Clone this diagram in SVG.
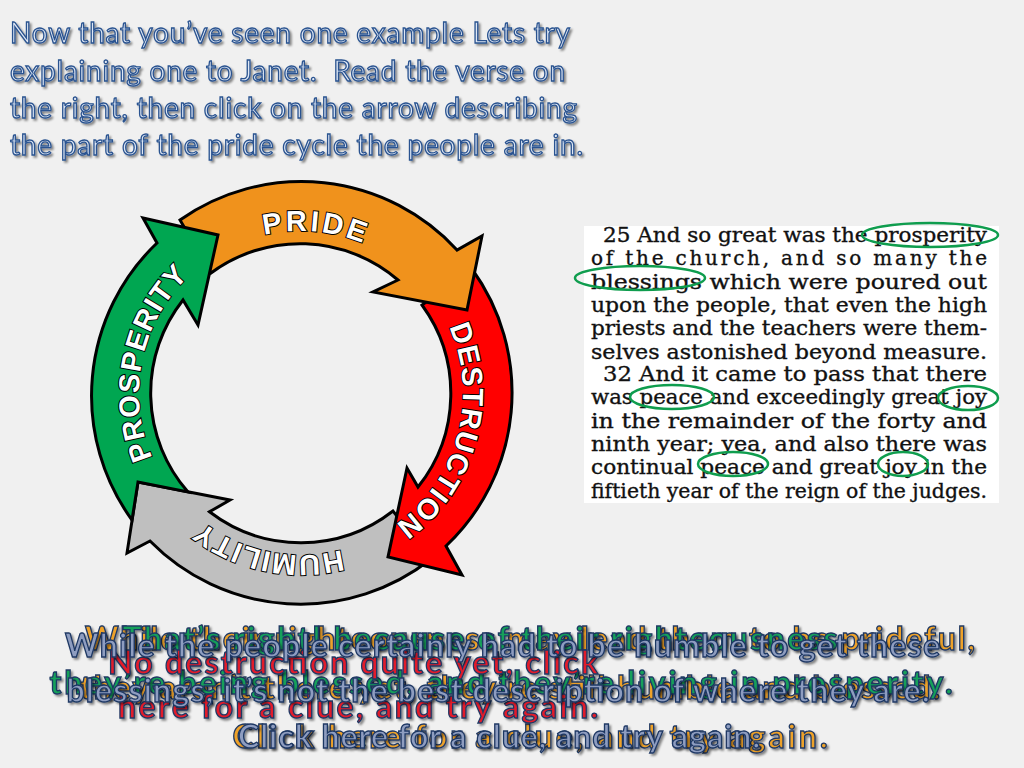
<svg xmlns="http://www.w3.org/2000/svg" width="1024" height="768" viewBox="0 0 1024 768">
<defs>
<style>
.title{font-family:Lato,"Open Sans","Liberation Sans",sans-serif;font-size:28px;fill:#dfe8f5;stroke:#2a5390;stroke-width:1.3px;white-space:pre}
.v{font-family:"DejaVu Serif","Liberation Serif",serif;font-size:20px;fill:#111;stroke:#111;stroke-width:0.35px}
.arr{stroke:#000;stroke-width:3;stroke-linejoin:miter}
.lab{font-family:"Liberation Sans",Arial,sans-serif;font-weight:700;font-size:29px;fill:#fff;stroke:#000;stroke-width:2px;paint-order:stroke}
.ring{fill:none;stroke:#0f9d4e;stroke-width:2.5}
.fb{font-family:Lato,"Open Sans","Liberation Sans",sans-serif;font-weight:700;font-size:32px;stroke:#1f3864;stroke-width:1.3px;text-anchor:middle}
</style>
<filter id="sh" x="-5%" y="-30%" width="110%" height="160%">
<feDropShadow dx="2" dy="2" stdDeviation="1" flood-color="#000" flood-opacity="0.45"/>
</filter>
<path id="lp" d="M 463,393 A 162 162 0 1 1 139,393 A 162 162 0 1 1 463,393 A 162 162 0 1 1 139,393 A 162 162 0 1 1 463,393"/>
</defs>
<rect width="1024" height="768" fill="#f0f0f0"/>

<g id="instructions" filter="url(#sh)">
<text class="title" x="10" y="43" textLength="560">Now that you’ve seen one example Lets try</text>
<text class="title" x="10" y="81" textLength="555">explaining one to Janet.  Read the verse on</text>
<text class="title" x="10" y="118" textLength="567">the right, then click on the arrow describing</text>
<text class="title" x="10" y="155" textLength="573">the part of the pride cycle the people are in.</text>
</g>

<g id="cycle">
<g id="humility-arrow">
<path class="arr" fill="#bfbfbf" d="M 431,559 A 211 211 0 0 1 150,541 L 127,553 L 138,482 L 230,500 L 209.5,511.8 A 150 150 0 0 0 393,511 Z"/>
</g>
<g id="destruction-arrow">
<path class="arr" fill="#ff0000" d="M 472,269 A 211 211 0 0 1 446,546 L 462,575 L 388,557 L 407,468 L 418,487 A 150 150 0 0 0 422,305 Z"/>
</g>
<g id="pride-arrow">
<path class="arr" fill="#f0921c" d="M 180,220 A 211 211 0 0 1 457,250 L 482,236 L 467,310 L 373,292 L 398,280 A 150 150 0 0 0 211,273 Z"/>
</g>
<g id="prosperity-arrow">
<path class="arr" fill="#00a651" d="M 132,520 L 138,482 L 188,492 A 150 150 0 0 1 183,300 L 198,325 L 218,235 L 143,218 L 157,243 A 211 211 0 0 0 132,520 Z"/>
</g>
<text class="lab" letter-spacing="3"><textPath href="#lp" startOffset="1795.5" text-anchor="middle">PRIDE</textPath></text>
<text class="lab" letter-spacing="1.2"><textPath href="#lp" startOffset="1061" text-anchor="middle">DESTRUCTION</textPath></text>
<text class="lab" letter-spacing="1.4"><textPath href="#lp" startOffset="1305.2" text-anchor="middle">HUMILITY</textPath></text>
<text class="lab" letter-spacing="1.1"><textPath href="#lp" startOffset="1559" text-anchor="middle">PROSPERITY</textPath></text>
</g>

<g id="verse">
<rect x="584" y="226" width="415" height="277" fill="#ffffff"/>
<text class="v" x="603" y="242" textLength="384" lengthAdjust="spacingAndGlyphs">25 And so great was the prosperity</text>
<text class="v" x="591" y="265.3" textLength="396">of the church, and so many the</text>
<text class="v" x="591" y="288.6" textLength="396" lengthAdjust="spacingAndGlyphs">blessings which were poured out</text>
<text class="v" x="591" y="311.9" textLength="396" lengthAdjust="spacingAndGlyphs">upon the people, that even the high</text>
<text class="v" x="591" y="335.2" textLength="396" lengthAdjust="spacingAndGlyphs">priests and the teachers were them-</text>
<text class="v" x="591" y="358.5" textLength="396" lengthAdjust="spacingAndGlyphs">selves astonished beyond measure.</text>
<text class="v" x="603" y="381" textLength="384" lengthAdjust="spacingAndGlyphs">32 And it came to pass that there</text>
<text class="v" x="591" y="404.3" textLength="396" lengthAdjust="spacingAndGlyphs">was peace and exceedingly great joy</text>
<text class="v" x="591" y="427.6" textLength="396" lengthAdjust="spacingAndGlyphs">in the remainder of the forty and</text>
<text class="v" x="591" y="450.9" textLength="396" lengthAdjust="spacingAndGlyphs">ninth year; yea, and also there was</text>
<text class="v" x="591" y="474.2" textLength="396" lengthAdjust="spacingAndGlyphs">continual peace and great joy in the</text>
<text class="v" x="591" y="497.5" textLength="396" lengthAdjust="spacingAndGlyphs">fiftieth year of the reign of the judges.</text>
<ellipse class="ring" cx="930" cy="235" rx="68" ry="12"/>
<ellipse class="ring" cx="640" cy="278" rx="65" ry="12"/>
<ellipse class="ring" cx="672" cy="397" rx="42" ry="12"/>
<ellipse class="ring" cx="968" cy="398" rx="30" ry="12"/>
<ellipse class="ring" cx="733" cy="464" rx="35" ry="12"/>
<ellipse class="ring" cx="903" cy="464" rx="25" ry="12"/>
</g>

<g id="feedback-pride" filter="url(#sh)">
<text class="fb" fill="#eea229" font-size="33" x="530" y="650" textLength="890">While their righteousness may lead them to be prideful,</text>
<text class="fb" fill="#eea229" font-size="33" x="510" y="699" textLength="860">they aren’t there yet, they’re still humble and blessed.</text>
<text class="fb" fill="#eea229" font-size="33" x="530" y="748" textLength="595">Click here for a clue, and try again.</text>
</g>
<g id="feedback-prosperity" filter="url(#sh)">
<text class="fb" fill="#12a05a" x="480" y="650" textLength="715">That’s right! because of their righteousness</text>
<text class="fb" fill="#12a05a" x="501" y="694" textLength="903">they’re being blessed, and they’re living in prosperity.</text>
</g>
<g id="feedback-destruction" filter="url(#sh)">
<text class="fb" fill="#e21b2c" font-size="34" x="353" y="674" textLength="490">No destruction quite yet, click</text>
<text class="fb" fill="#e21b2c" font-size="34" x="358" y="718" textLength="480">here for a clue, and try again.</text>
</g>
<g id="feedback-humility" filter="url(#sh)">
<text class="fb" fill="#8e9dc0" x="502.5" y="657" textLength="875">While the people certainly had to be humble to get these</text>
<text class="fb" fill="#8e9dc0" x="498" y="702" textLength="863">blessings, it’s not the best description of where they are.</text>
<text class="fb" fill="#8e9dc0" x="499" y="748" textLength="522">Click here for a clue, and try again.</text>
</g>
</svg>
